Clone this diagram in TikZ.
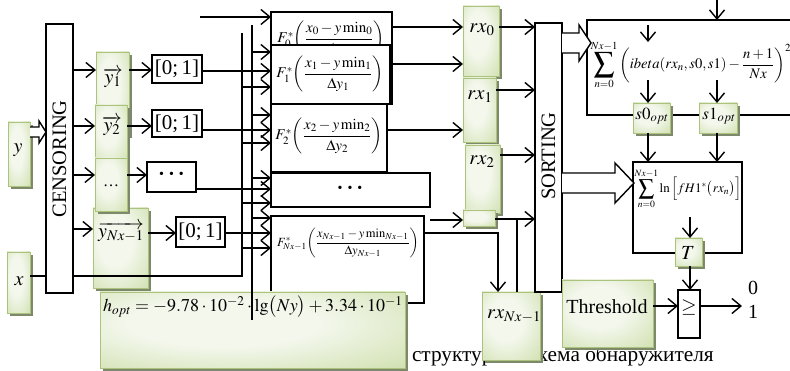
\documentclass[tikz,border=0pt]{standalone}
\usepackage{amsmath}
\usepackage{mathptmx}
\usepackage[no-math]{fontspec}
\setmainfont{Liberation Serif}
\usetikzlibrary{arrows.meta,shadows,fit}

\definecolor{gOut}{RGB}{186,208,140}
\definecolor{gMid}{RGB}{212,227,182}
\definecolor{gIn}{RGB}{243,247,236}
\definecolor{gEdge}{RGB}{172,195,126}
\definecolor{gShade}{RGB}{126,136,106}

\pgfdeclareradialshading{softgreen}{\pgfpoint{-6bp}{6bp}}{%
  color(0bp)=(gIn); color(16bp)=(gIn); color(38bp)=(gMid); color(56bp)=(gOut); color(80bp)=(gOut)}

% enlarged summation sign, centred on the math axis
\newcommand\Bsum[1]{\mathop{\vcenter{\hbox{\scalebox{#1}{$\displaystyle\sum$}}}}\limits}

\tikzset{
  lw/.style={line width=1.4pt},
  wbox/.style={draw, lw, fill=white, inner sep=0pt, outer sep=0pt},
  gbox/.style={draw=gEdge, line width=0.6pt, shading=softgreen, inner sep=0pt, outer sep=0pt,
    drop shadow={shadow xshift=3pt, shadow yshift=-3pt, fill=gShade, opacity=1}},
  arr/.style={lw, -{Straight Barb[length=9pt,width=15pt,line width=1.4pt]}},
  link/.style={lw},
  hollow/.style={lw, fill=white, line join=miter},
  lbl/.style={inner sep=0pt, outer sep=0pt, font=\fontsize{20}{24}\selectfont},
  fx/.style={inner sep=0pt, outer sep=0pt, font=\fontsize{15}{18}\selectfont},
}

\begin{document}
\begin{tikzpicture}[x=1pt,y=-1pt]
\useasboundingbox (0,0) rectangle (790,371);
\clip (0,0) rectangle (790,371);

% caption line, partly covered by the blocks in front of it
\node[lbl, anchor=base west, font=\fontsize{21.3}{24}\selectfont] (cap) at (412,361) {структурная схема обнаружителя};

% kernel distribution blocks
\node[wbox, fit={(271,12) (392,104)}] (F0) {};
\node[fx] (F0t) at (331,39) {$F_0^*\!\left(\dfrac{x_0-y\min\nolimits_0}{\Delta y_0}\right)$};
\node[wbox, fit={(271,45) (390,104)}] (F1) {};
\node[fx] (F1t) at (330,74) {$F_1^*\!\left(\dfrac{x_1-y\min\nolimits_1}{\Delta y_1}\right)$};
\node[wbox, fit={(271,104) (387,172)}] (F2) {};
\node[fx] (F2t) at (329,136) {$F_2^*\!\left(\dfrac{x_2-y\min\nolimits_2}{\Delta y_2}\right)$};
\node[wbox, fit={(271,173) (430,207)}] (Fd) {};
\node[lbl, font=\fontsize{14}{16}\selectfont] (Fdt) at (350,189) {\textbullet\hspace{5pt}\textbullet\hspace{5pt}\textbullet};
\node[wbox, fit={(271,216) (424,303)}] (FN) {};
\node[fx, font=\fontsize{12.5}{15}\selectfont] (FNt) at (348,243) {$F_{Nx-1}^*\!\left(\dfrac{x_{Nx-1}-y\min\nolimits_{Nx-1}}{\Delta y_{Nx-1}}\right)$};

% bandwidth formula
\node[gbox, fit={(100,292) (405,368)}] (hopt) {};
\node[lbl, anchor=west, font=\fontsize{18}{22}\selectfont] (hoptt) at (103,307) {$h_{opt}=-9.78\cdot10^{-2}\cdot\lg\!\big(Ny\big)+3.34\cdot10^{-1}$};

% inputs
\node[gbox, fit={(8,122) (30,186)}] (ybox) {};
\node[lbl] (yt) at (18,150) {$y$};
\node[gbox, fit={(7,252) (30,313)}] (xbox) {};
\node[lbl] (xt) at (19,281) {$x$};

% censored samples
\node[gbox, fit={(96,52) (129,135)}] (y1) {};
\node[gbox, fit={(95,105) (127,162)}] (y2) {};
\node[gbox, fit={(93,208) (148,288)}] (yN) {};
\node[gbox, fit={(95,158) (127,211)}] (yd) {};
\node[lbl] (y1t) at (113,78) {$\overrightarrow{y_1}$};
\node[lbl] (y2t) at (112,126) {$\overrightarrow{y_2}$};
\node[lbl, font=\fontsize{16}{18}\selectfont] (ydt) at (111,186) {\dots};
\node[lbl] (yNt) at (121,232) {$\overrightarrow{y_{Nx-1}}$};

% ranks
\node[gbox, fit={(463,6) (499,76)}] (rx0) {};
\node[gbox, fit={(463,78) (496,142)}] (rx1) {};
\node[gbox, fit={(465,145) (500,213)}] (rx2) {};
\node[gbox, fit={(463,210) (495,226)}] (rxs) {};
\node[gbox, fit={(482,292) (540,360)}] (rxN) {};
\node[lbl] (rx0t) at (482,30) {$rx_0$};
\node[lbl] (rx1t) at (480,97) {$rx_1$};
\node[lbl] (rx2t) at (482,162) {$rx_2$};
\node[lbl] (rxNt) at (514,316) {$rx_{Nx-1}$};

% white blocks
\node[wbox, fit={(46,24) (73,293)}] (cens) {};
\node[lbl, rotate=90, font=\fontsize{20.5}{24}\selectfont] (censt) at (59.5,159) {CENSORING};
\node[wbox, fit={(152,55) (202,83)}] (z1) {};
\node[lbl, font=\fontsize{21}{24}\selectfont] (z1t) at (177,69) {[0;\,1]};
\node[wbox, fit={(152,110) (202,137)}] (z2) {};
\node[lbl, font=\fontsize{21}{24}\selectfont] (z2t) at (177,124) {[0;\,1]};
\node[wbox, fit={(147,162) (196,192)}] (zd) {};
\node[lbl, font=\fontsize{14}{16}\selectfont] (zdt) at (171.5,175) {\textbullet\hspace{5pt}\textbullet\hspace{5pt}\textbullet};
\node[wbox, fit={(176,217) (225,247)}] (zN) {};
\node[lbl, font=\fontsize{21}{24}\selectfont] (zNt) at (200.5,232) {[0;\,1]};

\node[wbox, fit={(535,23) (562,292)}] (sort) {};
\node[lbl, rotate=90, font=\fontsize{20.5}{24}\selectfont] (sortt) at (548.5,156) {SORTING};

\node[wbox, fit={(587,20) (800,115)}] (sum1) {};
\node[inner sep=0pt, font=\fontsize{14.6}{18}\selectfont] (sum1t) at (691,65)
  {$\Bsum{1.4}_{n=0}^{Nx-1}\left(ibeta(rx_n,s0,s1)-\dfrac{n+1}{Nx}\right)^{2}$};
\node[wbox, fit={(633,162) (742,253)}] (sum2) {};
\node[inner sep=0pt, font=\fontsize{13}{16}\selectfont] (sum2t) at (688,189)
  {$\Bsum{1.2}_{n=0}^{Nx-1}\ln\Big[fH1^*\big(rx_n\big)\Big]$};
\node[wbox, fit={(678,290) (700,338)}] (ge) {};
\node[lbl] (get) at (689,307) {$\geq$};

% optimised parameters and threshold
\node[gbox, fit={(633,103) (670,133)}] (s0) {};
\node[lbl, font=\fontsize{17}{20}\selectfont] (s0t) at (652,116) {$s0_{opt}$};
\node[gbox, fit={(699,103) (737,133)}] (s1) {};
\node[lbl, font=\fontsize{17}{20}\selectfont] (s1t) at (719,116) {$s1_{opt}$};
\node[gbox, fit={(675,238) (702,266)}] (T) {};
\node[lbl] (Tt) at (688,253) {$T$};
\node[gbox, fit={(562,280) (653,347)}] (thr) {};
\node[lbl] (thrt) at (607,307) {Threshold};

% connectors: inputs and censoring
\draw[hollow] (ybox.east |- 0,127) -- (39,127) -- (39,121) -- (cens.west |- 0,132) -- (39,143) -- (39,137) -- (ybox.east |- 0,137);
\draw[link] (xbox.east |- 0,276) -- (cens.west |- 0,276);
\draw[link] (cens.east |- 0,276) -- (242,276) -- (242,33);
\draw[arr] (cens.east |- 0,70) -- (y1.west |- 0,70);
\draw[arr] (cens.east |- 0,126) -- (y2.west |- 0,126);
\draw[arr] (cens.east |- 0,175) -- (yd.west |- 0,175);
\draw[arr] (cens.east |- 0,229) -- (yN.west |- 0,229);
\draw[arr] (y1.east |- 0,70) -- (z1.west |- 0,70);
\draw[arr] (y2.east |- 0,126) -- (z2.west |- 0,126);
\draw[arr] (yd.east |- 0,175) -- (zd.west |- 0,175);
\draw[arr] (yN.east |- 0,233) -- (zN.west |- 0,233);

% connectors: normalised samples and buses into the kernel blocks
\coordinate (topin) at (200,17);
\draw[arr] (topin) -- (F0.west |- topin);
\draw[arr] (z1.east |- 0,71) -- (F1.west |- 0,71);
\draw[arr] (z2.east |- 0,130) -- (F2.west |- 0,130);
\draw[arr] (zd.east |- 0,189) -- (Fd.west |- 0,189);
\draw[arr] (zN.east |- 0,233) -- (FN.west |- 0,233);
\foreach \y/\t in {87/F1, 143/F2, 203/Fd, 248/FN} \draw[arr] (242,\y) -- (\t.west |- 0,\y);
\foreach \y/\t in {52/F1, 115/F2, 178/Fd, 218/FN} \draw[arr] (252,\y) -- (\t.west |- 0,\y);
\draw[link] (252,320) -- (252,25);

% connectors: kernel blocks to ranks
\draw[arr] (F0.east |- 0,27) -- (rx0.west |- 0,27);
\draw[arr] (F1.east |- 0,64) -- (rx0.west |- 0,64);
\draw[arr] (F2.east |- 0,130) -- (rx1.west |- 0,130);
\draw[arr] (Fd.east |- 0,220) -- (rxs.west |- 0,220);
\draw[arr] (FN.east |- 0,233) -- (498,233) -- (498,0 |- rxN.north);

% connectors: ranks to sorting
\draw[arr] (rx0.east |- 0,27) -- (sort.west |- 0,27);
\draw[arr] (rx1.east |- 0,90) -- (sort.west |- 0,90);
\draw[arr] (rx2.east |- 0,155) -- (sort.west |- 0,155);
\draw[arr] (rxs.east |- 0,219) -- (sort.west |- 0,219);
\draw[link] (517,0 |- rxN.north) -- (517,219);

% sorting to the two criteria
\draw[hollow] (sort.east |- 0,33) -- (579,33) -- (579,25) -- (591,43) -- (579,61) -- (579,53) -- (sort.east |- 0,53);
\draw[hollow] (sort.east |- 0,173) -- (615,173) -- (615,163) -- (634,183) -- (615,203) -- (615,193) -- (sort.east |- 0,193);

% criteria, parameters and decision
\draw[arr] (717,-2) -- (717,0 |- sum1.north);
\draw[arr] (648,25) -- (648,42);
\draw[arr] (648,80) -- (648,0 |- s0.north);
\draw[arr] (717,80) -- (717,0 |- s1.north);
\draw[arr] (648,0 |- s0.south) -- (648,0 |- sum2.north);
\draw[arr] (717,0 |- s1.south) -- (717,0 |- sum2.north);
\draw[arr] (690,217) -- (690,0 |- T.north);
\draw[arr] (690,0 |- T.south) -- (690,0 |- ge.north);
\draw[arr] (thr.east |- 0,306) -- (ge.west |- 0,306);
\coordinate (out) at (742,306);
\draw[arr] (ge.east |- out) -- (out);
\node[lbl] (o0) at (753,288) {0};
\node[lbl] (o1) at (753,312) {1};
\end{tikzpicture}
\end{document}
